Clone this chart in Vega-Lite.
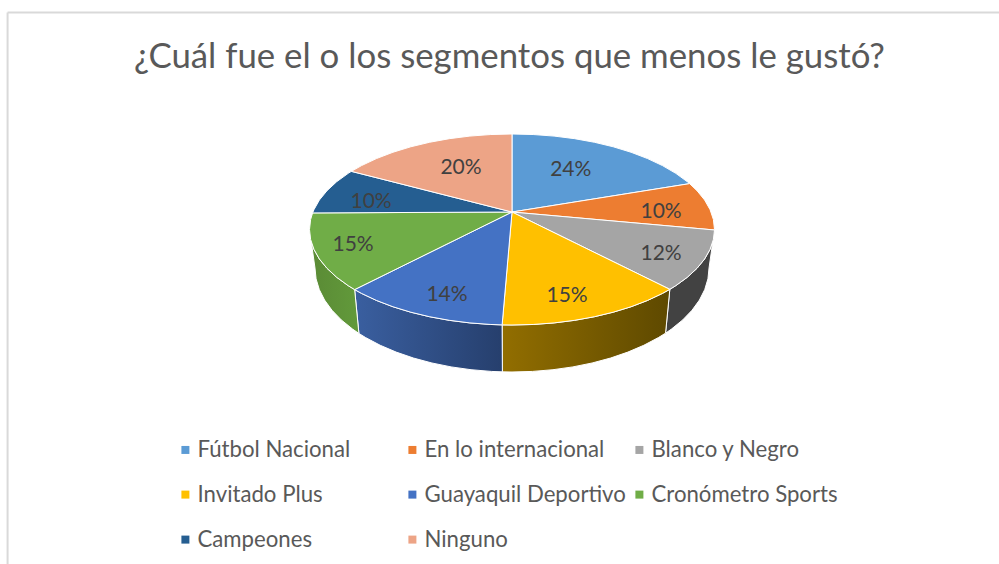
{"$schema":"https://vega.github.io/schema/vega-lite/v6.json","width":999,"height":564,"padding":0,"autosize":{"type":"none"},"background":"#ffffff","config":{"view":{"stroke":null},"font":"Lato"},
"title":{"text":"¿Cuál fue el o los segmentos que menos le gustó?","font":"Lato","fontSize":34.8,"fontWeight":"normal","color":"#595959","anchor":"middle","frame":"group","dx":10,"offset":-103,"baseline":"alphabetic"},
"datasets":{
"slices":[
{"s":"Fútbol Nacional","i":0,"x":0,"y":0.183},{"s":"Fútbol Nacional","i":1,"x":0,"y":1},{"s":"Fútbol Nacional","i":2,"x":0.1045,"y":0.9945},{"s":"Fútbol Nacional","i":3,"x":0.2079,"y":0.9781},{"s":"Fútbol Nacional","i":4,"x":0.309,"y":0.9511},{"s":"Fútbol Nacional","i":5,"x":0.4067,"y":0.9135},{"s":"Fútbol Nacional","i":6,"x":0.5,"y":0.866},{"s":"Fútbol Nacional","i":7,"x":0.5878,"y":0.809},{"s":"Fútbol Nacional","i":8,"x":0.6691,"y":0.7431},{"s":"Fútbol Nacional","i":9,"x":0.7431,"y":0.6691},{"s":"Fútbol Nacional","i":10,"x":0.809,"y":0.5878},{"s":"Fútbol Nacional","i":11,"x":0.866,"y":0.5},{"s":"Fútbol Nacional","i":12,"x":0.8771,"y":0.4802},{"s":"Fútbol Nacional","i":13,"x":0,"y":0.183},
{"s":"En lo internacional","i":0,"x":0,"y":0.183},{"s":"En lo internacional","i":1,"x":0.8771,"y":0.4802},{"s":"En lo internacional","i":2,"x":0.9135,"y":0.4067},{"s":"En lo internacional","i":3,"x":0.9511,"y":0.309},{"s":"En lo internacional","i":4,"x":0.9781,"y":0.2079},{"s":"En lo internacional","i":5,"x":0.9945,"y":0.1045},{"s":"En lo internacional","i":6,"x":1,"y":0},{"s":"En lo internacional","i":7,"x":1,"y":-0.0052},{"s":"En lo internacional","i":8,"x":0,"y":0.183},
{"s":"Blanco y Negro","i":0,"x":0,"y":0.183},{"s":"Blanco y Negro","i":1,"x":1,"y":-0.0052},{"s":"Blanco y Negro","i":2,"x":0.9945,"y":-0.1045},{"s":"Blanco y Negro","i":3,"x":0.9781,"y":-0.2079},{"s":"Blanco y Negro","i":4,"x":0.9511,"y":-0.309},{"s":"Blanco y Negro","i":5,"x":0.9135,"y":-0.4067},{"s":"Blanco y Negro","i":6,"x":0.866,"y":-0.5},{"s":"Blanco y Negro","i":7,"x":0.809,"y":-0.5878},{"s":"Blanco y Negro","i":8,"x":0.7793,"y":-0.6266},{"s":"Blanco y Negro","i":9,"x":0,"y":0.183},
{"s":"Invitado Plus","i":0,"x":0,"y":0.183},{"s":"Invitado Plus","i":1,"x":0.7793,"y":-0.6266},{"s":"Invitado Plus","i":2,"x":0.7431,"y":-0.6691},{"s":"Invitado Plus","i":3,"x":0.6691,"y":-0.7431},{"s":"Invitado Plus","i":4,"x":0.5878,"y":-0.809},{"s":"Invitado Plus","i":5,"x":0.5,"y":-0.866},{"s":"Invitado Plus","i":6,"x":0.4067,"y":-0.9135},{"s":"Invitado Plus","i":7,"x":0.309,"y":-0.9511},{"s":"Invitado Plus","i":8,"x":0.2079,"y":-0.9781},{"s":"Invitado Plus","i":9,"x":0.1045,"y":-0.9945},{"s":"Invitado Plus","i":10,"x":0,"y":-1},{"s":"Invitado Plus","i":11,"x":-0.0488,"y":-0.9988},{"s":"Invitado Plus","i":12,"x":0,"y":0.183},
{"s":"Guayaquil Deportivo","i":0,"x":0,"y":0.183},{"s":"Guayaquil Deportivo","i":1,"x":-0.0488,"y":-0.9988},{"s":"Guayaquil Deportivo","i":2,"x":-0.1045,"y":-0.9945},{"s":"Guayaquil Deportivo","i":3,"x":-0.2079,"y":-0.9781},{"s":"Guayaquil Deportivo","i":4,"x":-0.309,"y":-0.9511},{"s":"Guayaquil Deportivo","i":5,"x":-0.4067,"y":-0.9135},{"s":"Guayaquil Deportivo","i":6,"x":-0.5,"y":-0.866},{"s":"Guayaquil Deportivo","i":7,"x":-0.5878,"y":-0.809},{"s":"Guayaquil Deportivo","i":8,"x":-0.6691,"y":-0.7431},{"s":"Guayaquil Deportivo","i":9,"x":-0.7431,"y":-0.6691},{"s":"Guayaquil Deportivo","i":10,"x":-0.7771,"y":-0.6293},{"s":"Guayaquil Deportivo","i":11,"x":0,"y":0.183},
{"s":"Cronómetro Sports","i":0,"x":0,"y":0.183},{"s":"Cronómetro Sports","i":1,"x":-0.7771,"y":-0.6293},{"s":"Cronómetro Sports","i":2,"x":-0.809,"y":-0.5878},{"s":"Cronómetro Sports","i":3,"x":-0.866,"y":-0.5},{"s":"Cronómetro Sports","i":4,"x":-0.9135,"y":-0.4067},{"s":"Cronómetro Sports","i":5,"x":-0.9511,"y":-0.309},{"s":"Cronómetro Sports","i":6,"x":-0.9781,"y":-0.2079},{"s":"Cronómetro Sports","i":7,"x":-0.9945,"y":-0.1045},{"s":"Cronómetro Sports","i":8,"x":-1,"y":0},{"s":"Cronómetro Sports","i":9,"x":-0.9945,"y":0.1045},{"s":"Cronómetro Sports","i":10,"x":-0.9848,"y":0.1736},{"s":"Cronómetro Sports","i":11,"x":0,"y":0.183},
{"s":"Campeones","i":0,"x":0,"y":0.183},{"s":"Campeones","i":1,"x":-0.9848,"y":0.1736},{"s":"Campeones","i":2,"x":-0.9781,"y":0.2079},{"s":"Campeones","i":3,"x":-0.9511,"y":0.309},{"s":"Campeones","i":4,"x":-0.9135,"y":0.4067},{"s":"Campeones","i":5,"x":-0.866,"y":0.5},{"s":"Campeones","i":6,"x":-0.809,"y":0.5878},{"s":"Campeones","i":7,"x":-0.7934,"y":0.6088},{"s":"Campeones","i":8,"x":0,"y":0.183},
{"s":"Ninguno","i":0,"x":0,"y":0.183},{"s":"Ninguno","i":1,"x":-0.7934,"y":0.6088},{"s":"Ninguno","i":2,"x":-0.7431,"y":0.6691},{"s":"Ninguno","i":3,"x":-0.6691,"y":0.7431},{"s":"Ninguno","i":4,"x":-0.5878,"y":0.809},{"s":"Ninguno","i":5,"x":-0.5,"y":0.866},{"s":"Ninguno","i":6,"x":-0.4067,"y":0.9135},{"s":"Ninguno","i":7,"x":-0.309,"y":0.9511},{"s":"Ninguno","i":8,"x":-0.2079,"y":0.9781},{"s":"Ninguno","i":9,"x":-0.1045,"y":0.9945},{"s":"Ninguno","i":10,"x":0,"y":1},{"s":"Ninguno","i":11,"x":0,"y":0.183}
],
"wallBlanco":[{"i":0,"x":1,"y":-0.0052},{"i":1,"x":0.9945,"y":-0.1045},{"i":2,"x":0.9781,"y":-0.2079},{"i":3,"x":0.9511,"y":-0.309},{"i":4,"x":0.9135,"y":-0.4067},{"i":5,"x":0.866,"y":-0.5},{"i":6,"x":0.809,"y":-0.5878},{"i":7,"x":0.7793,"y":-0.6266},{"i":8,"x":0.7583,"y":-1.0854},{"i":9,"x":0.7872,"y":-1.0431},{"i":10,"x":0.8426,"y":-0.9475},{"i":11,"x":0.8888,"y":-0.8459},{"i":12,"x":0.9254,"y":-0.7395},{"i":13,"x":0.9517,"y":-0.6294},{"i":14,"x":0.9676,"y":-0.5168},{"i":15,"x":0.973,"y":-0.403},{"i":16,"x":1,"y":-0.0052}],
"wallInvitado":[{"i":0,"x":0.7793,"y":-0.6266},{"i":1,"x":0.7431,"y":-0.6691},{"i":2,"x":0.6691,"y":-0.7431},{"i":3,"x":0.5878,"y":-0.809},{"i":4,"x":0.5,"y":-0.866},{"i":5,"x":0.4067,"y":-0.9135},{"i":6,"x":0.309,"y":-0.9511},{"i":7,"x":0.2079,"y":-0.9781},{"i":8,"x":0.1045,"y":-0.9945},{"i":9,"x":0,"y":-1},{"i":10,"x":-0.0488,"y":-0.9988},{"i":11,"x":-0.0475,"y":-1.4907},{"i":12,"x":0,"y":-1.492},{"i":13,"x":0.1017,"y":-1.486},{"i":14,"x":0.2023,"y":-1.4682},{"i":15,"x":0.3007,"y":-1.4388},{"i":16,"x":0.3957,"y":-1.3978},{"i":17,"x":0.4865,"y":-1.3461},{"i":18,"x":0.5719,"y":-1.284},{"i":19,"x":0.651,"y":-1.2122},{"i":20,"x":0.723,"y":-1.1317},{"i":21,"x":0.7583,"y":-1.0854},{"i":22,"x":0.7793,"y":-0.6266}],
"wallGuayaquil":[{"i":0,"x":-0.0488,"y":-0.9988},{"i":1,"x":-0.1045,"y":-0.9945},{"i":2,"x":-0.2079,"y":-0.9781},{"i":3,"x":-0.309,"y":-0.9511},{"i":4,"x":-0.4067,"y":-0.9135},{"i":5,"x":-0.5,"y":-0.866},{"i":6,"x":-0.5878,"y":-0.809},{"i":7,"x":-0.6691,"y":-0.7431},{"i":8,"x":-0.7431,"y":-0.6691},{"i":9,"x":-0.7771,"y":-0.6293},{"i":10,"x":-0.7561,"y":-1.0883},{"i":11,"x":-0.723,"y":-1.1317},{"i":12,"x":-0.651,"y":-1.2122},{"i":13,"x":-0.5719,"y":-1.284},{"i":14,"x":-0.4865,"y":-1.3461},{"i":15,"x":-0.3957,"y":-1.3978},{"i":16,"x":-0.3007,"y":-1.4388},{"i":17,"x":-0.2023,"y":-1.4682},{"i":18,"x":-0.1017,"y":-1.486},{"i":19,"x":-0.0475,"y":-1.4907},{"i":20,"x":-0.0488,"y":-0.9988}],
"wallCrono":[{"i":0,"x":-0.7771,"y":-0.6293},{"i":1,"x":-0.809,"y":-0.5878},{"i":2,"x":-0.866,"y":-0.5},{"i":3,"x":-0.9135,"y":-0.4067},{"i":4,"x":-0.9511,"y":-0.309},{"i":5,"x":-0.9781,"y":-0.2079},{"i":6,"x":-0.9945,"y":-0.1045},{"i":7,"x":-1,"y":0},{"i":8,"x":-0.973,"y":-0.403},{"i":9,"x":-0.9676,"y":-0.5168},{"i":10,"x":-0.9517,"y":-0.6294},{"i":11,"x":-0.9254,"y":-0.7395},{"i":12,"x":-0.8888,"y":-0.8459},{"i":13,"x":-0.8426,"y":-0.9475},{"i":14,"x":-0.7872,"y":-1.0431},{"i":15,"x":-0.7561,"y":-1.0883},{"i":16,"x":-0.7771,"y":-0.6293}],
"labels":[{"s":"Fútbol Nacional","pct":"24%","x":0.29,"y":0.634},{"s":"En lo internacional","pct":"10%","x":0.736,"y":0.194},{"s":"Blanco y Negro","pct":"12%","x":0.736,"y":-0.243},{"s":"Invitado Plus","pct":"15%","x":0.272,"y":-0.686},{"s":"Guayaquil Deportivo","pct":"14%","x":-0.321,"y":-0.68},{"s":"Cronómetro Sports","pct":"15%","x":-0.785,"y":-0.155},{"s":"Campeones","pct":"10%","x":-0.696,"y":0.3},{"s":"Ninguno","pct":"20%","x":-0.252,"y":0.654}]
},
"encoding":{
"x":{"field":"x","type":"quantitative","scale":{"domain":[-2.5284,2.4049],"zero":false,"nice":false},"axis":null},
"y":{"field":"y","type":"quantitative","scale":{"domain":[-3.5026,2.4031],"zero":false,"nice":false},"axis":null}
},
"layer":[
{"data":{"values":[{"x":-2.491,"x2":2.4049,"y":2.272,"y2":2.272},{"x":-2.491,"x2":-2.491,"y":2.272,"y2":-3.5026}]},"mark":{"type":"rule","color":"#D9D9D9","strokeWidth":2},"encoding":{"x2":{"field":"x2"},"y2":{"field":"y2"}}},
{"data":{"name":"wallBlanco"},"mark":{"type":"line","filled":true,"fill":"#424242","stroke":"#ffffff","strokeWidth":1},"encoding":{"order":{"field":"i"}}},
{"data":{"name":"wallInvitado"},"mark":{"type":"line","filled":true,"fill":{"gradient":"linear","x1":0,"x2":1,"y1":0,"y2":0,"stops":[{"offset":0,"color":"#926E00"},{"offset":1,"color":"#5E4900"}]},"stroke":"#ffffff","strokeWidth":1},"encoding":{"order":{"field":"i"}}},
{"data":{"name":"wallGuayaquil"},"mark":{"type":"line","filled":true,"fill":{"gradient":"linear","x1":0,"x2":1,"y1":0,"y2":0,"stops":[{"offset":0,"color":"#3A5FA0"},{"offset":1,"color":"#263F6D"}]},"stroke":"#ffffff","strokeWidth":1},"encoding":{"order":{"field":"i"}}},
{"data":{"name":"wallCrono"},"mark":{"type":"line","filled":true,"fill":{"gradient":"linear","x1":0,"x2":1,"y1":0,"y2":0,"stops":[{"offset":0,"color":"#5A8A35"},{"offset":1,"color":"#629A3B"}]},"stroke":"#ffffff","strokeWidth":1},"encoding":{"order":{"field":"i"}}},
{"data":{"name":"slices"},"mark":{"type":"line","filled":true,"stroke":"#ffffff","strokeWidth":1},"encoding":{"order":{"field":"i"},
"color":{"field":"s","type":"nominal","title":null,"scale":{"domain":["Fútbol Nacional","En lo internacional","Blanco y Negro","Invitado Plus","Guayaquil Deportivo","Cronómetro Sports","Campeones","Ninguno"],"range":["#5B9BD5","#ED7D31","#A5A5A5","#FFC000","#4472C4","#70AD47","#255E91","#EDA486"]},"sort":null,
"legend":{"orient":"none","legendX":174.3,"legendY":438.5,"direction":"horizontal","columns":3,"gridAlign":"all","symbolType":"square","symbolSize":64,"symbolStrokeWidth":0,"labelFont":"Lato","labelFontSize":22.2,"labelColor":"#595959","labelOffset":1,"labelLimit":260,"rowPadding":22,"columnPadding":2,"encode":{"symbols":{"update":{"size":[{"test":"datum.value === 'Ninguno'","value":196},{"value":64}]}}}}}}},
{"data":{"name":"labels"},"mark":{"type":"text","font":"Lato","fontSize":21,"color":"#404040","align":"center","baseline":"middle","dy":1},"encoding":{"text":{"field":"pct"}}}
]}
